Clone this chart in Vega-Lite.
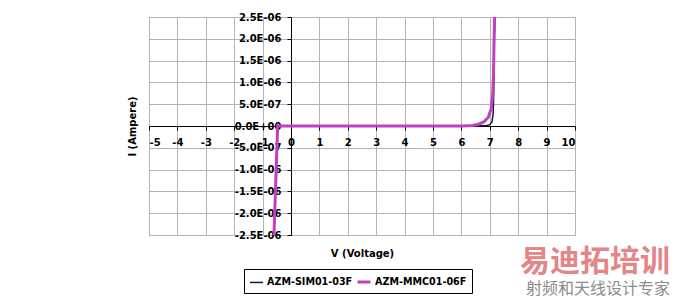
{
  "$schema": "https://vega.github.io/schema/vega-lite/v6.json",
  "width": 426,
  "height": 218,
  "autosize": "none",
  "padding": {"left": 149, "top": 17, "right": 101, "bottom": 66},
  "background": "white",
  "title": {"text": "易迪拓培训", "subtitle": "射频和天线设计专家", "orient": "bottom", "anchor": "end", "frame": "group", "dx": 95, "offset": -47,
    "font": "Noto Sans CJK SC", "fontSize": 30, "fontWeight": "bold", "color": "#e28686",
    "subtitleFont": "Noto Sans CJK SC", "subtitleFontSize": 16, "subtitleColor": "#8c8c8c", "subtitlePadding": 4},
  "config": {
    "font": "DejaVu Sans",
    "view": {"stroke": "#9a9a9a", "strokeWidth": 1},
    "axis": {"labelFont": "DejaVu Sans", "labelFontWeight": "bold", "labelFontSize": 10, "labelColor": "black", "titleFont": "DejaVu Sans", "titleFontWeight": "bold", "titleFontSize": 10, "titleColor": "black"}
  },
  "data": {
    "values": [
      {"S": "AZM-SIM01-03F", "V": -0.6, "I": -2.5e-6},
      {"S": "AZM-SIM01-03F", "V": -0.47, "I": 0},
      {"S": "AZM-SIM01-03F", "V": 0, "I": 0},
      {"S": "AZM-SIM01-03F", "V": 3, "I": 0},
      {"S": "AZM-SIM01-03F", "V": 6.5, "I": 0},
      {"S": "AZM-SIM01-03F", "V": 6.9, "I": 1e-8},
      {"S": "AZM-SIM01-03F", "V": 7.0, "I": 3e-8},
      {"S": "AZM-SIM01-03F", "V": 7.08, "I": 1e-7},
      {"S": "AZM-SIM01-03F", "V": 7.12, "I": 3e-7},
      {"S": "AZM-SIM01-03F", "V": 7.14, "I": 8e-7},
      {"S": "AZM-SIM01-03F", "V": 7.16, "I": 2e-6},
      {"S": "AZM-SIM01-03F", "V": 7.18, "I": 2.5e-6},
      {"S": "AZM-MMC01-06F", "V": -0.6, "I": -2.5e-6},
      {"S": "AZM-MMC01-06F", "V": -0.47, "I": 0},
      {"S": "AZM-MMC01-06F", "V": 0, "I": 0},
      {"S": "AZM-MMC01-06F", "V": 3, "I": 0},
      {"S": "AZM-MMC01-06F", "V": 6.0, "I": 0},
      {"S": "AZM-MMC01-06F", "V": 6.4, "I": 1e-8},
      {"S": "AZM-MMC01-06F", "V": 6.6, "I": 4e-8},
      {"S": "AZM-MMC01-06F", "V": 6.8, "I": 1e-7},
      {"S": "AZM-MMC01-06F", "V": 6.95, "I": 2e-7},
      {"S": "AZM-MMC01-06F", "V": 7.05, "I": 4e-7},
      {"S": "AZM-MMC01-06F", "V": 7.1, "I": 7e-7},
      {"S": "AZM-MMC01-06F", "V": 7.13, "I": 1.2e-6},
      {"S": "AZM-MMC01-06F", "V": 7.15, "I": 2e-6},
      {"S": "AZM-MMC01-06F", "V": 7.17, "I": 2.5e-6}
    ]
  },
  "resolve": {"axis": {"x": "independent", "y": "independent"}},
  "layer": [
    {
      "mark": {"type": "line", "clip": true},
      "encoding": {
        "x": {"field": "V", "type": "quantitative", "scale": {"domain": [-5, 10], "nice": false, "zero": false},
          "axis": {"orient": "bottom", "title": "V (Voltage)", "values": [-5,-4,-3,-2,-1,0,1,2,3,4,5,6,7,8,9,10], "grid": true, "gridColor": "#b4b4b4", "labels": false, "ticks": false, "domain": false, "titlePadding": 13}},
        "y": {"field": "I", "type": "quantitative", "scale": {"domain": [-2.5e-6, 2.5e-6], "nice": false, "zero": false},
          "axis": {"orient": "left", "title": "I (Ampere)", "values": [-2.5e-6,-2e-6,-1.5e-6,-1e-6,-5e-7,0,5e-7,1e-6,1.5e-6,2e-6,2.5e-6], "grid": true, "gridColor": "#b4b4b4", "labels": false, "ticks": false, "domain": false, "titlePadding": 12}},
        "color": {"field": "S", "type": "nominal", "sort": ["AZM-SIM01-03F", "AZM-MMC01-06F"],
          "scale": {"domain": ["AZM-SIM01-03F", "AZM-MMC01-06F"], "range": ["#16163a", "#c040c0"]},
          "legend": {"title": null, "orient": "none", "direction": "horizontal", "legendX": 95, "legendY": 252,
            "strokeColor": "black", "padding": 5, "symbolType": "stroke", "symbolSize": 169, "symbolStrokeWidth": 2.5,
            "labelFont": "DejaVu Sans", "labelFontWeight": "bold", "labelFontSize": 9.6, "labelColor": "black", "labelOffset": 3, "columnPadding": -2}},
        "strokeWidth": {"field": "S", "type": "nominal", "scale": {"domain": ["AZM-SIM01-03F", "AZM-MMC01-06F"], "range": [1.5, 3]}, "legend": null},
        "order": {"field": "V", "type": "quantitative"}
      }
    },
    {
      "mark": {"type": "point", "opacity": 0},
      "encoding": {
        "x": {"field": "V", "type": "quantitative",
          "axis": {"orient": "bottom", "title": null, "grid": false, "offset": -109, "values": [-5,-4,-3,-2,-1,0,1,2,3,4,5,6,7,8,9,10], "domainColor": "black", "tickColor": "black", "tickSize": 4, "labelPadding": 7, "labelExpr": "(datum.value < 0 ? '-' : '') + abs(datum.value)"}},
        "y": {"field": "I", "type": "quantitative",
          "axis": {"orient": "left", "title": null, "grid": false, "offset": -142, "values": [-2.5e-6,-2e-6,-1.5e-6,-1e-6,-5e-7,0,5e-7,1e-6,1.5e-6,2e-6,2.5e-6], "domainColor": "black", "tickColor": "black", "tickSize": 4, "labelPadding": 6,
            "labelExpr": "datum.value == 0 ? '0.0E+00' : (datum.value < 0 ? '-' : '') + (abs(datum.value) < 9e-7 ? format(abs(datum.value) * 1e7, '.1f') + 'E-07' : format(abs(datum.value) * 1e6, '.1f') + 'E-06')"}}
      }
    }
  ]
}
